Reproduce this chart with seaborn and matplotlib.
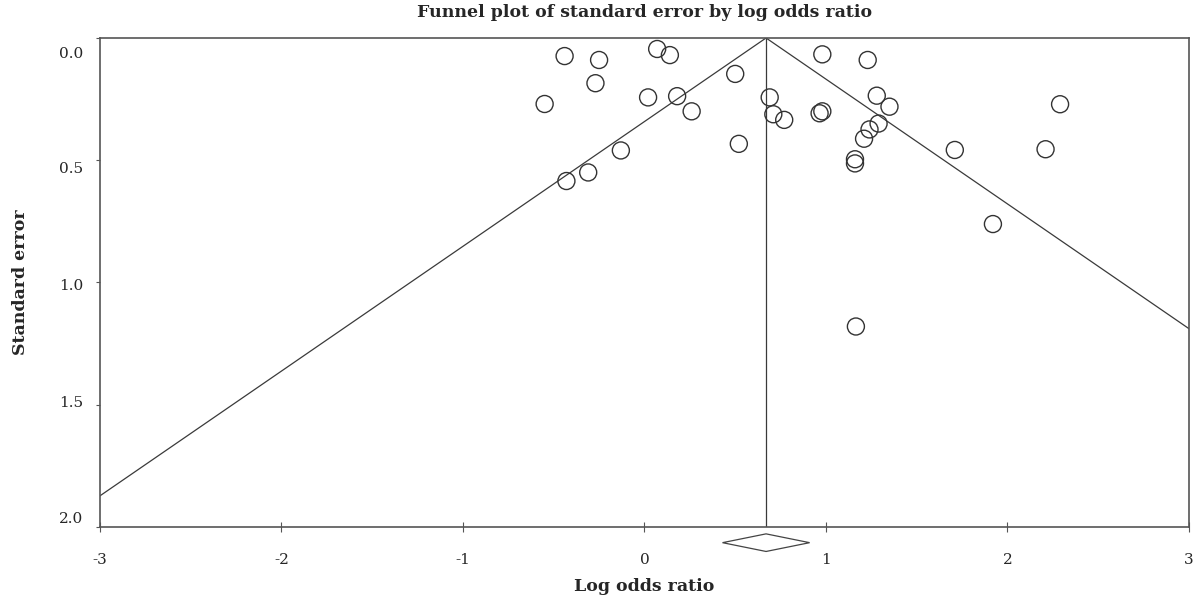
import matplotlib
matplotlib.use("Agg")
import matplotlib.pyplot as plt
import matplotlib.transforms as mtransforms
import seaborn as sns
import pandas as pd

# Study estimates
log_or = [-0.44, -0.25, 0.07, 0.14, -0.27, -0.55, 0.02, 0.18, 0.26, 0.50,
          0.69, 0.71, 0.77, 0.52, -0.13, -0.31, -0.43,
          0.98, 1.23, 1.28, 1.35, 2.29, 0.965, 0.98, 1.29, 1.24, 1.21,
          1.16, 1.16, 1.71, 2.21, 1.92, 1.165]
std_err = [0.074, 0.09, 0.045, 0.07, 0.185, 0.27, 0.243, 0.238, 0.30, 0.147,
           0.243, 0.312, 0.335, 0.433, 0.46, 0.55, 0.585,
           0.067, 0.09, 0.236, 0.281, 0.271, 0.308, 0.30, 0.35, 0.374, 0.412,
           0.496, 0.513, 0.458, 0.455, 0.761, 1.18]

pooled = 0.67          # summary log odds ratio
ci_low, ci_high = 0.43, 0.91
z = 1.96

x_ticks = [-3, -2, -1, 0, 1, 2, 3]
y_ticks = [0.0, 0.5, 1.0, 1.5, 2.0]
y_tick_labels = ["0.0", "0.5", "1.0", "1.5", "2.0"]

df = pd.DataFrame({"Log odds ratio": log_or, "Standard error": std_err})

sns.set_style("white")
plt.rcParams["font.family"] = ["DejaVu Serif"]

fig = plt.figure(figsize=(11.93, 5.98), dpi=100)
ax = fig.add_axes([0.0838, 0.1187, 0.9128, 0.8178])

line_col = "#3a3a3a"

# funnel (pseudo 95% limits) and vertical line at pooled estimate
se_max = 2.0
funnel = pd.DataFrame({
    "x": [pooled - z * se_max, pooled, pooled + z * se_max],
    "y": [se_max, 0.0, se_max],
})
sns.lineplot(data=funnel, x="x", y="y", sort=False, color=line_col,
             linewidth=0.9, ax=ax)
ax.plot([pooled, pooled], [0.0, se_max], color=line_col, linewidth=0.9)

sns.scatterplot(data=df, x="Log odds ratio", y="Standard error", ax=ax,
                marker="o", s=150, facecolor="none", edgecolor="#333333",
                linewidth=1.0, zorder=3)

ax.set_xlim(-3, 3)
ax.set_ylim(2.0, 0.0)

# summary diamond below the axis
dy = 0.036
yc = 2.064
ax.fill([ci_low, pooled, ci_high, pooled], [yc, yc - dy, yc, yc + dy],
        facecolor="white", edgecolor="#444444", linewidth=0.9, clip_on=False,
        zorder=4)

ax.set_xticks(x_ticks)
ax.set_xticklabels([str(t) for t in x_ticks])
ax.set_yticks(y_ticks)
ax.set_yticklabels(y_tick_labels)
ax.tick_params(axis="x", bottom=True, direction="inout", length=7, width=0.8,
               color="#555555", pad=15, labelsize=11)
ax.tick_params(axis="y", left=True, direction="out", length=3, width=0.8,
               color="#555555", pad=9, labelsize=11)

# labels in the reference sit slightly off their ticks (offsets in px)
offsets = [-15, -7, -2, 3, 10]
for lab, off in zip(ax.get_yticklabels(), offsets):
    lab.set_transform(lab.get_transform() +
                      mtransforms.ScaledTranslation(0, off / 100, fig.dpi_scale_trans))

for sp in ax.spines.values():
    sp.set_color("#555555")
    sp.set_linewidth(1.2)

ax.set_title("Funnel plot of standard error by log odds ratio",
             fontsize=12.5, fontweight="bold", pad=15)
ax.set_xlabel("Log odds ratio", fontsize=12.5, fontweight="bold", labelpad=8)
ax.set_ylabel("Standard error", fontsize=12.5, fontweight="bold", labelpad=22)

fig.savefig("out.png", dpi=100)
